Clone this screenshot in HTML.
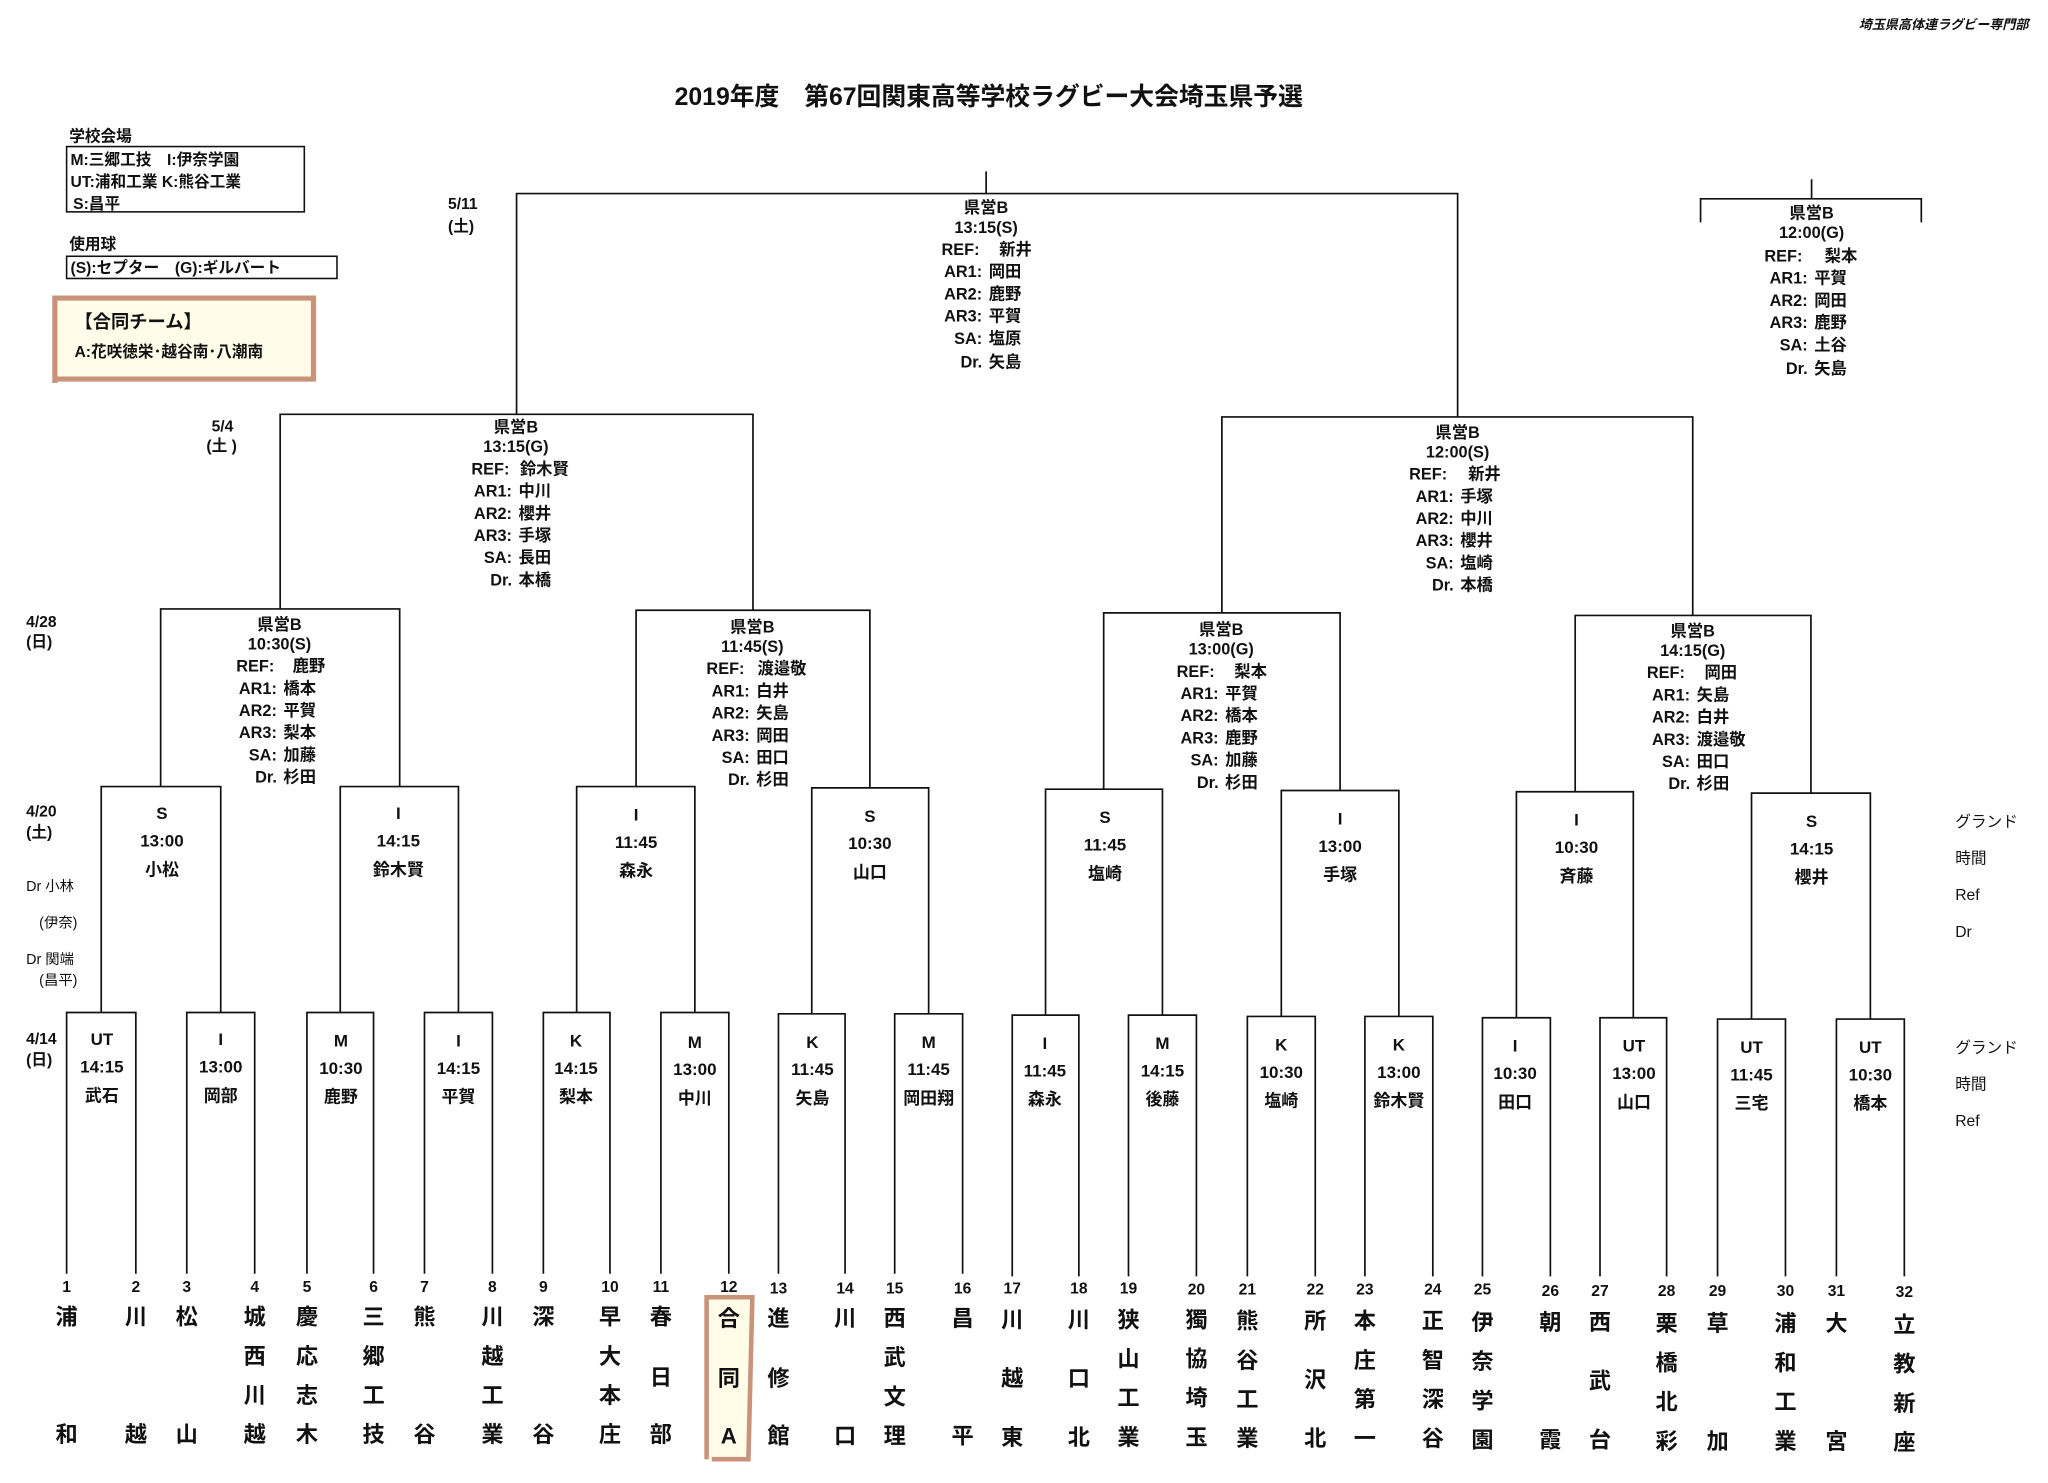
<!DOCTYPE html>
<html><head><meta charset="utf-8"><style>
html,body{margin:0;padding:0;background:#fff;}
svg{display:block;}
text{font-family:"Liberation Sans","Noto Sans CJK JP",sans-serif;font-weight:bold;fill:#111;}
.c{text-anchor:middle;font-size:12.5px;}
.l{text-anchor:end;font-size:12.5px;}
.n{text-anchor:start;font-size:12.5px;}
.r{text-anchor:middle;font-size:13px;}
.lf{text-anchor:middle;font-size:17px;}
.nm{text-anchor:middle;font-size:12px;}
.s{font-size:12px;}
</style></head><body>
<svg width="2048" height="1483" viewBox="0 0 1568 1135" xmlns="http://www.w3.org/2000/svg">
<rect width="1568" height="1135" fill="#fff"/>
<text x="1553" y="22" style="text-anchor:end;font-size:10px;font-style:italic">埼玉県高体連ラグビー専門部</text>
<text x="757" y="80" style="text-anchor:middle;font-size:19px">2019年度　第67回関東高等学校ラグビー大会埼玉県予選</text>

<!-- legend -->
<text x="53" y="108" class="s">学校会場</text>
<rect x="51" y="112" width="182" height="50" fill="none" stroke="#111" stroke-width="1.2"/>
<text x="54" y="126" class="s">M:三郷工技　I:伊奈学園</text>
<text x="54" y="143" class="s">UT:浦和工業 K:熊谷工業</text>
<text x="56" y="160" class="s">S:昌平</text>
<text x="53" y="191" class="s">使用球</text>
<rect x="51" y="196" width="207" height="17" fill="none" stroke="#111" stroke-width="1.2"/>
<text x="54" y="209" class="s">(S):セプター　(G):ギルバート</text>
<path d="M42 293V228H240V290H42" fill="#fffdea" stroke="#c8937a" stroke-width="4"/>
<text x="57" y="251" style="font-size:14px">【合同チーム】</text>
<text x="57" y="273" class="s">A:花咲徳栄･越谷南･八潮南</text>

<!-- date labels -->
<text x="343" y="160" class="s">5/11</text><text x="343" y="177" class="s">(土)</text>
<text x="162" y="330" class="s">5/4</text><text x="158" y="345" class="s">(土 )</text>
<text x="20" y="480" class="s">4/28</text><text x="20" y="495" class="s">(日)</text>
<text x="20" y="625" class="s">4/20</text><text x="20" y="641" class="s">(土)</text>
<text x="20" y="682" style="font-size:11px;font-weight:normal">Dr 小林</text>
<text x="30" y="710" style="font-size:11px;font-weight:normal">(伊奈)</text>
<text x="20" y="738" style="font-size:11px;font-weight:normal">Dr 関端</text>
<text x="30" y="754" style="font-size:11px;font-weight:normal">(昌平)</text>
<text x="20" y="799" class="s">4/14</text><text x="20" y="815" class="s">(日)</text>
<text x="1497" y="633" class="s" style="font-weight:normal">グランド</text>
<text x="1497" y="661" class="s" style="font-weight:normal">時間</text>
<text x="1497" y="689" class="s" style="font-weight:normal">Ref</text>
<text x="1497" y="717" class="s" style="font-weight:normal">Dr</text>
<text x="1497" y="806" class="s" style="font-weight:normal">グランド</text>
<text x="1497" y="834" class="s" style="font-weight:normal">時間</text>
<text x="1497" y="862" class="s" style="font-weight:normal">Ref</text>

<!-- bracket lines -->
<g fill="none" stroke="#111" stroke-width="1.3">
<path d="M51 975V775H104V975M143 975V775H195V975M235 975V775H286V975M325 975V775H377V975M416 975V775H467V975M506 975V775H558V975M596 975V776H647V975M685 975V776H737V975M775 977V777H826V977M864 977V777H916V977M955 977V778H1007V977M1045 977V778H1097V977M1135 977V779H1187V977M1225 977V779H1276V977M1315 977V780H1367V977M1406 977V780H1458V977"/>
<path d="M77.5 775V602H169V775M260.5 775V602H351V775M441.5 775V602H532V775M621.5 776V603H711V776M800.5 777V604H890V777M981 778V605H1071V778M1161 779V606H1250.5V779M1341 780V607H1432V780"/>
<path d="M123 602V466H306V602M487 602V467H666V603M845 604V469H1026V605M1206 606V471H1386.5V607"/>
<path d="M214.5 466V317H576.5V467M935.5 469V319H1296V471"/>
<path d="M395.5 317V148H1116V319M755 131V148"/>
<path d="M1302 170V152H1471V170M1387 137V152"/>
</g>

<!-- Final -->
<text x="755" y="163" class="c">県営B</text><text x="755" y="178" class="c">13:15(S)</text>
<text x="750" y="195" class="l">REF:</text><text x="765" y="195" class="n">新井</text>
<text x="752" y="212" class="l">AR1:</text><text x="757" y="212" class="n">岡田</text>
<text x="752" y="229" class="l">AR2:</text><text x="757" y="229" class="n">鹿野</text>
<text x="752" y="246" class="l">AR3:</text><text x="757" y="246" class="n">平賀</text>
<text x="752" y="263" class="l">SA:</text><text x="757" y="263" class="n">塩原</text>
<text x="752" y="281" class="l">Dr.</text><text x="757" y="281" class="n">矢島</text>
<!-- 3rd -->
<text x="1387" y="167" class="c">県営B</text><text x="1387" y="182" class="c">12:00(G)</text>
<text x="1380" y="200" class="l">REF:</text><text x="1397" y="200" class="n">梨本</text>
<text x="1384" y="217" class="l">AR1:</text><text x="1389" y="217" class="n">平賀</text>
<text x="1384" y="234" class="l">AR2:</text><text x="1389" y="234" class="n">岡田</text>
<text x="1384" y="251" class="l">AR3:</text><text x="1389" y="251" class="n">鹿野</text>
<text x="1384" y="268" class="l">SA:</text><text x="1389" y="268" class="n">土谷</text>
<text x="1384" y="286" class="l">Dr.</text><text x="1389" y="286" class="n">矢島</text>
<!-- R4 left -->
<text x="395" y="331" class="c">県営B</text><text x="395" y="346" class="c">13:15(G)</text>
<text x="390" y="363" class="l">REF:</text><text x="398" y="363" class="n">鈴木賢</text>
<text x="392" y="380" class="l">AR1:</text><text x="397" y="380" class="n">中川</text>
<text x="392" y="397" class="l">AR2:</text><text x="397" y="397" class="n">櫻井</text>
<text x="392" y="414" class="l">AR3:</text><text x="397" y="414" class="n">手塚</text>
<text x="392" y="431" class="l">SA:</text><text x="397" y="431" class="n">長田</text>
<text x="392" y="448" class="l">Dr.</text><text x="397" y="448" class="n">本橋</text>
<!-- R4 right -->
<text x="1116" y="335" class="c">県営B</text><text x="1116" y="350" class="c">12:00(S)</text>
<text x="1108" y="367" class="l">REF:</text><text x="1124" y="367" class="n">新井</text>
<text x="1113" y="384" class="l">AR1:</text><text x="1118" y="384" class="n">手塚</text>
<text x="1113" y="401" class="l">AR2:</text><text x="1118" y="401" class="n">中川</text>
<text x="1113" y="418" class="l">AR3:</text><text x="1118" y="418" class="n">櫻井</text>
<text x="1113" y="435" class="l">SA:</text><text x="1118" y="435" class="n">塩崎</text>
<text x="1113" y="452" class="l">Dr.</text><text x="1118" y="452" class="n">本橋</text>
<!-- R3 -->
<text x="214" y="482" class="c">県営B</text><text x="214" y="497" class="c">10:30(S)</text>
<text x="210" y="514" class="l">REF:</text><text x="224" y="514" class="n">鹿野</text>
<text x="212" y="531" class="l">AR1:</text><text x="217" y="531" class="n">橋本</text>
<text x="212" y="548" class="l">AR2:</text><text x="217" y="548" class="n">平賀</text>
<text x="212" y="565" class="l">AR3:</text><text x="217" y="565" class="n">梨本</text>
<text x="212" y="582" class="l">SA:</text><text x="217" y="582" class="n">加藤</text>
<text x="212" y="599" class="l">Dr.</text><text x="217" y="599" class="n">杉田</text>

<text x="576" y="484" class="c">県営B</text><text x="576" y="499" class="c">11:45(S)</text>
<text x="570" y="516" class="l">REF:</text><text x="580" y="516" class="n">渡邉敬</text>
<text x="574" y="533" class="l">AR1:</text><text x="579" y="533" class="n">白井</text>
<text x="574" y="550" class="l">AR2:</text><text x="579" y="550" class="n">矢島</text>
<text x="574" y="567" class="l">AR3:</text><text x="579" y="567" class="n">岡田</text>
<text x="574" y="584" class="l">SA:</text><text x="579" y="584" class="n">田口</text>
<text x="574" y="601" class="l">Dr.</text><text x="579" y="601" class="n">杉田</text>

<text x="935" y="486" class="c">県営B</text><text x="935" y="501" class="c">13:00(G)</text>
<text x="930" y="518" class="l">REF:</text><text x="945" y="518" class="n">梨本</text>
<text x="933" y="535" class="l">AR1:</text><text x="938" y="535" class="n">平賀</text>
<text x="933" y="552" class="l">AR2:</text><text x="938" y="552" class="n">橋本</text>
<text x="933" y="569" class="l">AR3:</text><text x="938" y="569" class="n">鹿野</text>
<text x="933" y="586" class="l">SA:</text><text x="938" y="586" class="n">加藤</text>
<text x="933" y="603" class="l">Dr.</text><text x="938" y="603" class="n">杉田</text>

<text x="1296" y="487" class="c">県営B</text><text x="1296" y="502" class="c">14:15(G)</text>
<text x="1290" y="519" class="l">REF:</text><text x="1305" y="519" class="n">岡田</text>
<text x="1294" y="536" class="l">AR1:</text><text x="1299" y="536" class="n">矢島</text>
<text x="1294" y="553" class="l">AR2:</text><text x="1299" y="553" class="n">白井</text>
<text x="1294" y="570" class="l">AR3:</text><text x="1299" y="570" class="n">渡邉敬</text>
<text x="1294" y="587" class="l">SA:</text><text x="1299" y="587" class="n">田口</text>
<text x="1294" y="604" class="l">Dr.</text><text x="1299" y="604" class="n">杉田</text>

<!-- R2 -->
<text x="124" y="627" class="r">S</text><text x="124" y="648" class="r">13:00</text><text x="124" y="670" class="r">小松</text>
<text x="305" y="627" class="r">I</text><text x="305" y="648" class="r">14:15</text><text x="305" y="670" class="r">鈴木賢</text>
<text x="487" y="628" class="r">I</text><text x="487" y="649" class="r">11:45</text><text x="487" y="671" class="r">森永</text>
<text x="666" y="629" class="r">S</text><text x="666" y="650" class="r">10:30</text><text x="666" y="672" class="r">山口</text>
<text x="846" y="630" class="r">S</text><text x="846" y="651" class="r">11:45</text><text x="846" y="673" class="r">塩崎</text>
<text x="1026" y="631" class="r">I</text><text x="1026" y="652" class="r">13:00</text><text x="1026" y="674" class="r">手塚</text>
<text x="1207" y="632" class="r">I</text><text x="1207" y="653" class="r">10:30</text><text x="1207" y="675" class="r">斉藤</text>
<text x="1387" y="633" class="r">S</text><text x="1387" y="654" class="r">14:15</text><text x="1387" y="676" class="r">櫻井</text>

<!-- R1 -->
<text x="78" y="800" class="r">UT</text><text x="78" y="821" class="r">14:15</text><text x="78" y="843" class="r">武石</text>
<text x="169" y="800" class="r">I</text><text x="169" y="821" class="r">13:00</text><text x="169" y="843" class="r">岡部</text>
<text x="261" y="801" class="r">M</text><text x="261" y="822" class="r">10:30</text><text x="261" y="844" class="r">鹿野</text>
<text x="351" y="801" class="r">I</text><text x="351" y="822" class="r">14:15</text><text x="351" y="844" class="r">平賀</text>
<text x="441" y="801" class="r">K</text><text x="441" y="822" class="r">14:15</text><text x="441" y="844" class="r">梨本</text>
<text x="532" y="802" class="r">M</text><text x="532" y="823" class="r">13:00</text><text x="532" y="845" class="r">中川</text>
<text x="622" y="802" class="r">K</text><text x="622" y="823" class="r">11:45</text><text x="622" y="845" class="r">矢島</text>
<text x="711" y="802" class="r">M</text><text x="711" y="823" class="r">11:45</text><text x="711" y="845" class="r">岡田翔</text>
<text x="800" y="803" class="r">I</text><text x="800" y="824" class="r">11:45</text><text x="800" y="846" class="r">森永</text>
<text x="890" y="803" class="r">M</text><text x="890" y="824" class="r">14:15</text><text x="890" y="846" class="r">後藤</text>
<text x="981" y="804" class="r">K</text><text x="981" y="825" class="r">10:30</text><text x="981" y="847" class="r">塩崎</text>
<text x="1071" y="804" class="r">K</text><text x="1071" y="825" class="r">13:00</text><text x="1071" y="847" class="r">鈴木賢</text>
<text x="1160" y="805" class="r">I</text><text x="1160" y="826" class="r">10:30</text><text x="1160" y="848" class="r">田口</text>
<text x="1251" y="805" class="r">UT</text><text x="1251" y="826" class="r">13:00</text><text x="1251" y="848" class="r">山口</text>
<text x="1341" y="806" class="r">UT</text><text x="1341" y="827" class="r">11:45</text><text x="1341" y="849" class="r">三宅</text>
<text x="1432" y="806" class="r">UT</text><text x="1432" y="827" class="r">10:30</text><text x="1432" y="849" class="r">橋本</text>

<!-- highlight leaf 12 -->
<path d="M541 1117V993H576L573 1117H545" fill="#fffde8" stroke="#c8937a" stroke-width="3.5"/>

<!-- leaf numbers -->
<g class="nm">
<text x="51" y="989" class="nm">1</text><text x="104" y="989" class="nm">2</text><text x="143" y="989" class="nm">3</text><text x="195" y="989" class="nm">4</text>
<text x="235" y="989" class="nm">5</text><text x="286" y="989" class="nm">6</text><text x="325" y="989" class="nm">7</text><text x="377" y="989" class="nm">8</text>
<text x="416" y="989" class="nm">9</text><text x="467" y="989" class="nm">10</text><text x="506" y="989" class="nm">11</text><text x="558" y="989" class="nm">12</text>
<text x="596" y="990" class="nm">13</text><text x="647" y="990" class="nm">14</text><text x="685" y="990" class="nm">15</text><text x="737" y="990" class="nm">16</text>
<text x="775" y="990" class="nm">17</text><text x="826" y="990" class="nm">18</text><text x="864" y="990" class="nm">19</text><text x="916" y="991" class="nm">20</text>
<text x="955" y="991" class="nm">21</text><text x="1007" y="991" class="nm">22</text><text x="1045" y="991" class="nm">23</text><text x="1097" y="991" class="nm">24</text>
<text x="1135" y="991" class="nm">25</text><text x="1187" y="992" class="nm">26</text><text x="1225" y="992" class="nm">27</text><text x="1276" y="992" class="nm">28</text>
<text x="1315" y="992" class="nm">29</text><text x="1367" y="992" class="nm">30</text><text x="1406" y="992" class="nm">31</text><text x="1458" y="993" class="nm">32</text>
</g>

<!-- leaf names -->
<text x="51" y="1014" class="lf">浦</text><text x="51" y="1104" class="lf">和</text>
<text x="104" y="1014" class="lf">川</text><text x="104" y="1104" class="lf">越</text>
<text x="143" y="1014" class="lf">松</text><text x="143" y="1104" class="lf">山</text>
<text x="195" y="1014" class="lf">城</text><text x="195" y="1044" class="lf">西</text><text x="195" y="1074" class="lf">川</text><text x="195" y="1104" class="lf">越</text>
<text x="235" y="1014" class="lf">慶</text><text x="235" y="1044" class="lf">応</text><text x="235" y="1074" class="lf">志</text><text x="235" y="1104" class="lf">木</text>
<text x="286" y="1014" class="lf">三</text><text x="286" y="1044" class="lf">郷</text><text x="286" y="1074" class="lf">工</text><text x="286" y="1104" class="lf">技</text>
<text x="325" y="1014" class="lf">熊</text><text x="325" y="1104" class="lf">谷</text>
<text x="377" y="1014" class="lf">川</text><text x="377" y="1044" class="lf">越</text><text x="377" y="1074" class="lf">工</text><text x="377" y="1104" class="lf">業</text>
<text x="416" y="1014" class="lf">深</text><text x="416" y="1104" class="lf">谷</text>
<text x="467" y="1014" class="lf">早</text><text x="467" y="1044" class="lf">大</text><text x="467" y="1074" class="lf">本</text><text x="467" y="1104" class="lf">庄</text>
<text x="506" y="1014" class="lf">春</text><text x="506" y="1060" class="lf">日</text><text x="506" y="1104" class="lf">部</text>
<text x="558" y="1015" class="lf">合</text><text x="558" y="1061" class="lf">同</text><text x="558" y="1105" class="lf">A</text>
<text x="596" y="1015" class="lf">進</text><text x="596" y="1061" class="lf">修</text><text x="596" y="1105" class="lf">館</text>
<text x="647" y="1015" class="lf">川</text><text x="647" y="1105" class="lf">口</text>
<text x="685" y="1015" class="lf">西</text><text x="685" y="1045" class="lf">武</text><text x="685" y="1075" class="lf">文</text><text x="685" y="1105" class="lf">理</text>
<text x="737" y="1015" class="lf">昌</text><text x="737" y="1105" class="lf">平</text>
<text x="775" y="1016" class="lf">川</text><text x="775" y="1061" class="lf">越</text><text x="775" y="1106" class="lf">東</text>
<text x="826" y="1016" class="lf">川</text><text x="826" y="1061" class="lf">口</text><text x="826" y="1106" class="lf">北</text>
<text x="864" y="1016" class="lf">狭</text><text x="864" y="1046" class="lf">山</text><text x="864" y="1076" class="lf">工</text><text x="864" y="1106" class="lf">業</text>
<text x="916" y="1016" class="lf">獨</text><text x="916" y="1046" class="lf">協</text><text x="916" y="1076" class="lf">埼</text><text x="916" y="1106" class="lf">玉</text>
<text x="955" y="1017" class="lf">熊</text><text x="955" y="1047" class="lf">谷</text><text x="955" y="1077" class="lf">工</text><text x="955" y="1107" class="lf">業</text>
<text x="1007" y="1017" class="lf">所</text><text x="1007" y="1062" class="lf">沢</text><text x="1007" y="1107" class="lf">北</text>
<text x="1045" y="1017" class="lf">本</text><text x="1045" y="1047" class="lf">庄</text><text x="1045" y="1077" class="lf">第</text><text x="1045" y="1107" class="lf">一</text>
<text x="1097" y="1017" class="lf">正</text><text x="1097" y="1047" class="lf">智</text><text x="1097" y="1077" class="lf">深</text><text x="1097" y="1107" class="lf">谷</text>
<text x="1135" y="1018" class="lf">伊</text><text x="1135" y="1048" class="lf">奈</text><text x="1135" y="1078" class="lf">学</text><text x="1135" y="1108" class="lf">園</text>
<text x="1187" y="1018" class="lf">朝</text><text x="1187" y="1108" class="lf">霞</text>
<text x="1225" y="1018" class="lf">西</text><text x="1225" y="1063" class="lf">武</text><text x="1225" y="1108" class="lf">台</text>
<text x="1276" y="1019" class="lf">栗</text><text x="1276" y="1049" class="lf">橋</text><text x="1276" y="1079" class="lf">北</text><text x="1276" y="1109" class="lf">彩</text>
<text x="1315" y="1019" class="lf">草</text><text x="1315" y="1109" class="lf">加</text>
<text x="1367" y="1019" class="lf">浦</text><text x="1367" y="1049" class="lf">和</text><text x="1367" y="1079" class="lf">工</text><text x="1367" y="1109" class="lf">業</text>
<text x="1406" y="1019" class="lf">大</text><text x="1406" y="1109" class="lf">宮</text>
<text x="1458" y="1020" class="lf">立</text><text x="1458" y="1050" class="lf">教</text><text x="1458" y="1080" class="lf">新</text><text x="1458" y="1110" class="lf">座</text>
</svg>
</body></html>
